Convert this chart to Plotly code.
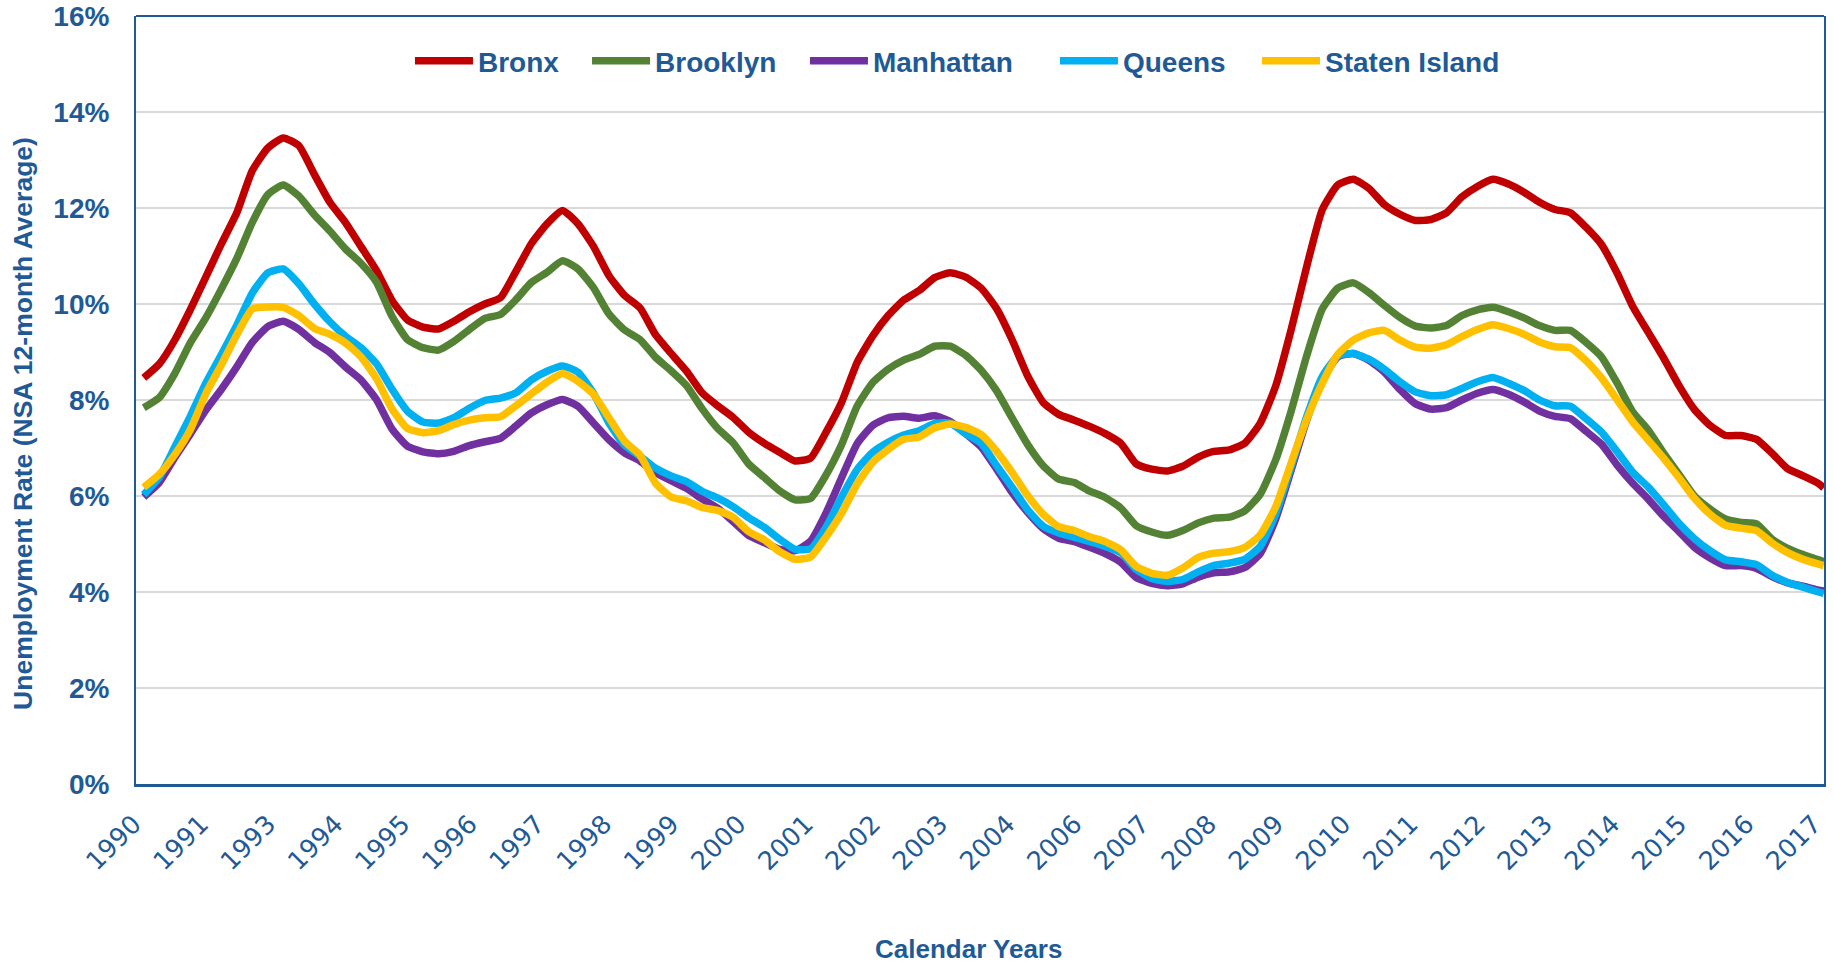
import plotly.graph_objects as go

# ---- data ----
# x categories: month index, 0 = Nov 1990 ... 325 = Dec 2017 (sampled every 3 months)
month_index = list(range(0, 325, 3)) + [325]

# axis labels are shown every 13 months (as in the source chart)
label_months = list(range(0, 326, 13))
year_labels = ["1990", "1991", "1993", "1994", "1995", "1996", "1997", "1998",
               "1999", "2000", "2001", "2002", "2003", "2004", "2006", "2007",
               "2008", "2009", "2010", "2011", "2012", "2013", "2014", "2015",
               "2016", "2017"]

bronx = [8.46, 8.75, 9.25, 9.88, 10.56, 11.25, 11.9, 12.78, 13.25, 13.46, 13.3, 12.7,
         12.12, 11.7, 11.2, 10.7, 10.08, 9.67, 9.52, 9.48, 9.64, 9.84, 10.0,
         10.13, 10.68, 11.26, 11.67, 11.95, 11.67, 11.2, 10.59, 10.18, 9.92, 9.36,
         8.97, 8.6, 8.15, 7.88, 7.64, 7.33, 7.1, 6.91, 6.73, 6.79, 7.33,
         7.95, 8.78, 9.33, 9.76, 10.08, 10.28, 10.55, 10.65, 10.56, 10.33, 9.9, 9.25,
         8.5, 7.95, 7.7, 7.58, 7.45, 7.3, 7.1, 6.67, 6.56, 6.52, 6.62,
         6.81, 6.93, 6.96, 7.1, 7.52, 8.3, 9.48, 10.79, 11.97, 12.48, 12.6, 12.41,
         12.07, 11.87, 11.74, 11.76, 11.9, 12.23, 12.45, 12.6, 12.5, 12.33, 12.12,
         11.97, 11.9, 11.6, 11.24, 10.65, 9.96, 9.42, 8.88, 8.3, 7.8, 7.47, 7.26,
         7.26, 7.18, 6.89, 6.57, 6.42, 6.26, 6.17]

brooklyn = [7.84, 8.05, 8.55, 9.19, 9.71, 10.31, 10.95, 11.7, 12.28, 12.48, 12.25, 11.86,
            11.52, 11.15, 10.85, 10.46, 9.75, 9.26, 9.09, 9.04, 9.22, 9.47, 9.7,
            9.78, 10.09, 10.45, 10.66, 10.9, 10.73, 10.34, 9.79, 9.46, 9.26, 8.89,
            8.61, 8.3, 7.82, 7.41, 7.11, 6.67, 6.39, 6.11, 5.92, 5.95, 6.44,
            7.07, 7.87, 8.36, 8.64, 8.83, 8.95, 9.12, 9.12, 8.93, 8.62, 8.19, 7.62,
            7.07, 6.63, 6.35, 6.28, 6.1, 5.97, 5.75, 5.38, 5.25, 5.18, 5.28,
            5.44, 5.54, 5.56, 5.69, 6.04, 6.76, 7.78, 8.93, 9.9, 10.33, 10.44, 10.24,
            9.97, 9.72, 9.54, 9.5, 9.55, 9.76, 9.88, 9.93, 9.84, 9.71, 9.55,
            9.45, 9.45, 9.2, 8.9, 8.36, 7.76, 7.38, 6.9, 6.45, 6.0, 5.73, 5.52,
            5.45, 5.42, 5.1, 4.91, 4.78, 4.67, 4.63]

manhattan = [5.98, 6.28, 6.8, 7.29, 7.79, 8.22, 8.69, 9.2, 9.53, 9.64, 9.47, 9.2,
             8.99, 8.69, 8.42, 8.01, 7.4, 7.04, 6.92, 6.88, 6.93, 7.05, 7.13,
             7.2, 7.46, 7.73, 7.9, 8.01, 7.87, 7.52, 7.17, 6.9, 6.73, 6.49,
             6.32, 6.16, 5.94, 5.75, 5.47, 5.18, 5.03, 4.89, 4.86, 5.06, 5.65,
             6.38, 7.09, 7.47, 7.63, 7.66, 7.62, 7.67, 7.55, 7.3, 7.02, 6.56, 6.07,
             5.66, 5.32, 5.12, 5.05, 4.93, 4.8, 4.62, 4.3, 4.18, 4.13, 4.17,
             4.31, 4.4, 4.42, 4.51, 4.8, 5.53, 6.55, 7.59, 8.43, 8.9, 8.97, 8.83,
             8.58, 8.22, 7.92, 7.81, 7.84, 8.0, 8.14, 8.22, 8.12, 7.96, 7.77,
             7.66, 7.61, 7.35, 7.08, 6.65, 6.27, 5.94, 5.58, 5.26, 4.93, 4.71, 4.55,
             4.55, 4.49, 4.32, 4.19, 4.12, 4.04, 4.02]

queens = [6.03, 6.39, 7.02, 7.66, 8.35, 8.94, 9.56, 10.23, 10.65, 10.73, 10.42, 10.0,
          9.63, 9.33, 9.09, 8.76, 8.23, 7.77, 7.54, 7.52, 7.63, 7.83, 7.99,
          8.04, 8.15, 8.42, 8.6, 8.71, 8.58, 8.14, 7.52, 7.06, 6.83, 6.58,
          6.42, 6.3, 6.1, 5.96, 5.78, 5.55, 5.35, 5.1, 4.89, 4.9, 5.35,
          5.98, 6.55, 6.91, 7.12, 7.27, 7.36, 7.51, 7.52, 7.3, 7.1, 6.63, 6.18,
          5.71, 5.37, 5.23, 5.14, 5.05, 4.95, 4.82, 4.47, 4.28, 4.22, 4.26,
          4.42, 4.55, 4.6, 4.68, 4.95, 5.63, 6.62, 7.66, 8.49, 8.92, 8.97, 8.85,
          8.64, 8.38, 8.17, 8.09, 8.11, 8.24, 8.38, 8.47, 8.35, 8.2, 8.0,
          7.88, 7.87, 7.61, 7.33, 6.93, 6.5, 6.19, 5.82, 5.43, 5.11, 4.86, 4.67,
          4.63, 4.57, 4.35, 4.2, 4.1, 4.0, 3.97]

staten_island = [6.18, 6.45, 6.86, 7.38, 8.13, 8.73, 9.36, 9.9, 9.94, 9.93, 9.76, 9.49,
                 9.37, 9.19, 8.9, 8.45, 7.82, 7.41, 7.32, 7.36, 7.49, 7.58, 7.63,
                 7.65, 7.88, 8.13, 8.37, 8.55, 8.39, 8.12, 7.63, 7.14, 6.85, 6.27,
                 5.98, 5.9, 5.76, 5.7, 5.56, 5.26, 5.09, 4.84, 4.68, 4.73, 5.15,
                 5.64, 6.25, 6.7, 6.97, 7.18, 7.23, 7.42, 7.5, 7.43, 7.28, 6.93, 6.49,
                 6.01, 5.62, 5.36, 5.28, 5.15, 5.05, 4.88, 4.53, 4.39, 4.35, 4.5,
                 4.72, 4.81, 4.84, 4.93, 5.19, 5.78, 6.7, 7.6, 8.35, 8.95, 9.25, 9.4,
                 9.45, 9.25, 9.1, 9.08, 9.15, 9.32, 9.47, 9.57, 9.49, 9.37, 9.21,
                 9.11, 9.09, 8.82, 8.46, 8.01, 7.55, 7.17, 6.79, 6.38, 5.95, 5.62, 5.39,
                 5.33, 5.28, 5.02, 4.82, 4.68, 4.58, 4.55]

series_names = ["Bronx", "Brooklyn", "Manhattan", "Queens", "Staten Island"]
series_values = [bronx, brooklyn, manhattan, queens, staten_island]
series_colors = ["#C00000", "#548235", "#7030A0", "#00B0F0", "#FFC000"]

BLUE = "#1F5A96"
FONT = "Liberation Sans, Arial, sans-serif"
TICK_FONT = "DejaVu Sans, Verdana, sans-serif"

# one small legend box per series so the entries are spread like the source
legend_ids = ["legend", "legend2", "legend3", "legend4", "legend5"]
legend_x = [0.1623, 0.2672, 0.3963, 0.5444, 0.6641]

fig = go.Figure()
for name, vals, color, lid in zip(series_names, series_values, series_colors, legend_ids):
    fig.add_trace(go.Scatter(
        x=month_index, y=vals, mode="lines", name=name, legend=lid,
        line=dict(color=color, width=7.5, shape="spline", smoothing=0.5),
    ))

legend_style = dict(
    orientation="h", xanchor="left", y=0.9414, yanchor="middle",
    font=dict(family=FONT, size=28, color=BLUE, weight="bold"),
    bgcolor="rgba(0,0,0,0)", itemwidth=58,
)
layout_legends = {}
for lid, lx in zip(legend_ids, legend_x):
    layout_legends[lid] = dict(legend_style, x=lx)

fig.update_layout(
    width=1833, height=965,
    margin=dict(l=136, r=9, t=16, b=181, autoexpand=False),
    plot_bgcolor="white", paper_bgcolor="white",
    font=dict(family=FONT, color=BLUE),
    showlegend=True,
    xaxis=dict(
        range=[-1.5, 325.05], automargin=False,
        tickmode="array", tickvals=label_months, ticktext=year_labels,
        tickangle=-45, ticklabeloverflow="allow", ticklabelshift=-10,
        tickfont=dict(family=TICK_FONT, size=25.5, color=BLUE),
        ticks="outside", ticklen=12, tickcolor="rgba(0,0,0,0)",
        showgrid=False, zeroline=False,
        showline=True, linecolor=BLUE, linewidth=3,
    ),
    yaxis=dict(
        range=[0, 16], dtick=2, ticksuffix="%", automargin=False,
        tickfont=dict(family=FONT, size=28, color=BLUE, weight="bold"),
        ticklabelstandoff=19,
        showgrid=True, gridcolor="#D9D9D9", gridwidth=2,
        zeroline=False,
        showline=True, linecolor=BLUE, linewidth=2, mirror=True,
    ),
    annotations=[
        dict(text="Unemployment Rate (NSA 12-month Average)",
             xref="paper", yref="paper", x=-0.0669, y=0.469,
             xanchor="center", yanchor="middle", textangle=-90, showarrow=False,
             font=dict(family=FONT, size=26.5, color=BLUE, weight="bold")),
        dict(text="Calendar Years",
             xref="paper", yref="paper", x=0.4929, y=-0.2143,
             xanchor="center", yanchor="middle", showarrow=False,
             font=dict(family=FONT, size=26, color=BLUE, weight="bold")),
    ],
    shapes=[dict(type="line", xref="paper", yref="paper", x0=0, x1=1, y0=1, y1=1,
                 line=dict(color=BLUE, width=2))],
    **layout_legends,
)

fig.write_html("out.html", config={"displayModeBar": False},
               post_script="document.body.style.margin='0';document.body.style.overflow='hidden';")
